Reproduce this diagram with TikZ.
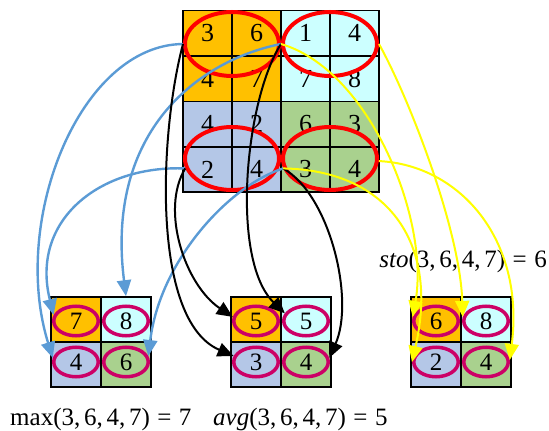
\documentclass[tikz,border=0pt]{standalone}
\usepackage{fontspec}
\setmainfont{Liberation Serif}
\usetikzlibrary{arrows.meta,shapes.geometric,calc}
\definecolor{cOrange}{HTML}{FFC000}
\definecolor{cCyan}{HTML}{CCFFFF}
\definecolor{cSlate}{HTML}{B4C7E7}
\definecolor{cGreen}{HTML}{A9D18E}
\definecolor{cBlue}{HTML}{5B9BD5}
\definecolor{cYellow}{HTML}{FFFF00}
\definecolor{cMag}{HTML}{CC0066}
\begin{document}
\begin{tikzpicture}[x=1pt,y=-1pt,
  bigcell/.style={draw=black,line width=1.6pt,minimum width=49pt,minimum height=45.4pt,inner sep=0pt,font=\fontsize{26}{26}\selectfont},
  smallcell/.style={draw=black,line width=1.6pt,minimum width=50pt,minimum height=45pt,inner sep=0pt},
  redell/.style={ellipse,draw=red,line width=4pt,minimum width=94pt,minimum height=64pt,inner sep=0pt},
  magell/.style={ellipse,draw=cMag,line width=3.5pt,minimum width=44.5pt,minimum height=29.5pt,inner sep=0pt,font=\fontsize{25}{25}\selectfont},
  arr/.style={line width=2pt,-{Triangle[length=16pt,width=14pt]}},
  barr/.style={arr,draw=cBlue,line width=2.4pt},
  karr/.style={arr,draw=black},
  yarr/.style={arr,draw=cYellow},
  lbl/.style={inner sep=0pt,font=\fontsize{25}{25}\selectfont}
]
\useasboundingbox (0,0) rectangle (549,431);

% top grid
\foreach \r/\c/\v/\col in {1/1/3/cOrange,1/2/6/cOrange,1/3/1/cCyan,1/4/4/cCyan,
  2/1/4/cOrange,2/2/7/cOrange,2/3/7/cCyan,2/4/8/cCyan,
  3/1/4/cSlate,3/2/2/cSlate,3/3/6/cGreen,3/4/3/cGreen,
  4/1/2/cSlate,4/2/4/cSlate,4/3/3/cGreen,4/4/4/cGreen}
  \node[bigcell,fill=\col] (t\r\c) at ({183+49*(\c-0.5)},{10.5+45.4*(\r-0.5)}) {\v};

\node[redell] (eTL) at (232,44) {};
\node[redell] (eTR) at (330,44) {};
\node[redell,minimum height=63pt] (eBL) at (232,158.5) {};
\node[redell,minimum height=63pt] (eBR) at (330,158.5) {};

% small grids
\foreach \g/\x/\a/\b/\c/\d in {L/51/7/8/4/6, M/231/5/5/3/4, R/411/6/8/2/4}{
  \node[smallcell,fill=cOrange] (c\g1) at (\x+25,319.5) {};
  \node[smallcell,fill=cCyan]   (c\g2) at (\x+75,319.5) {};
  \node[smallcell,fill=cSlate]  (c\g3) at (\x+25,364.5) {};
  \node[smallcell,fill=cGreen]  (c\g4) at (\x+75,364.5) {};
  \node[magell] (\g1) at (\x+25,321) {\a};
  \node[magell] (\g2) at (\x+75,321) {\b};
  \node[magell] (\g3) at (\x+25,362) {\c};
  \node[magell] (\g4) at (\x+75,362) {\d};
}

% labels
\node[lbl,anchor=base west] (lmax) at (10,425) {max(3,\hspace{0.15em}6,\hspace{0.15em}4,\hspace{0.15em}7)\hspace{0.3em}=\hspace{0.3em}7};
\node[lbl,anchor=base west] (lavg) at (213,425) {\textit{avg}(3,\hspace{0.15em}6,\hspace{0.15em}4,\hspace{0.15em}7)\hspace{0.3em}=\hspace{0.3em}5};
\node[lbl,anchor=base east] (lsto) at (547,267) {\textit{sto}(3,\hspace{0.15em}6,\hspace{0.15em}4,\hspace{0.15em}7)\hspace{0.3em}=\hspace{0.3em}6};

% blue arrows
\draw[barr] (eTL.west) .. controls (80,45) and (10,220) .. (L3.170);
\draw[barr] (eBL.192) .. controls (100,165) and (30,220) .. (L1.165);
\draw[barr] (eTL.east) .. controls (200,60) and (105,130) .. (cL2.north);
\draw[barr] (eBR.192) .. controls (230,185) and (160,260) .. (L4.15);

% black arrows
\draw[karr] (eTL.west) .. controls (160,130) and (150,320) .. (M3.165);
\draw[karr] (eBL.192) .. controls (160,210) and (185,285) .. (M1.170);
\draw[karr] (eTL.east) .. controls (245,100) and (230,260) .. (M2.160);
\draw[karr] (eBR.192) .. controls (330,195) and (355,300) .. (M4.10);

% yellow arrows
\draw[yarr] (eTL.east) .. controls (370,70) and (430,220) .. (R1.170);
\draw[yarr] (eTR.east) .. controls (410,100) and (460,230) .. (R2.170);
\draw[yarr] (eBR.-3) .. controls (460,165) and (525,240) .. (R4.5);
\draw[yarr] (eBR.192) .. controls (385,170) and (440,240) .. (R3.west);
\end{tikzpicture}
\end{document}
